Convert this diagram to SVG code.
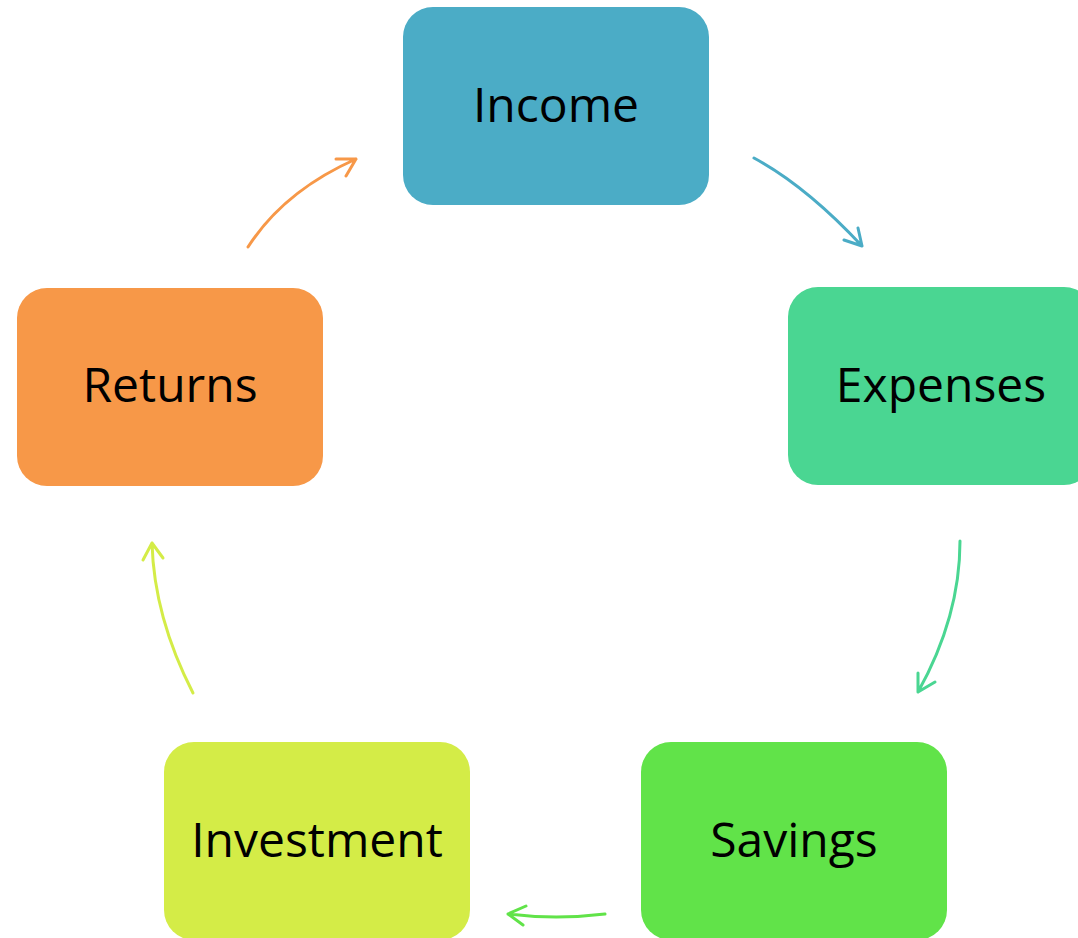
<svg xmlns="http://www.w3.org/2000/svg" width="1078" height="938" viewBox="0 0 1078 938">
<style>
.box{stroke:none}
.lbl{font-family:"Open Sans","Noto Sans","Liberation Sans",sans-serif;font-size:48px;fill:#000;text-anchor:middle}
.arr{fill:none;stroke-width:3;stroke-linecap:round;stroke-linejoin:round}
</style>
<rect width="1078" height="938" fill="#fff"/>
<g id="income"><rect class="box" x="403" y="7" width="306" height="198" rx="30" fill="#4BACC6"/><text class="lbl" x="556" y="122">Income</text></g>
<g id="expenses"><rect class="box" x="788" y="287" width="306" height="198" rx="30" fill="#4AD692"/><text class="lbl" x="941" y="402">Expenses</text></g>
<g id="savings"><rect class="box" x="641" y="742" width="306" height="198" rx="30" fill="#61E349"/><text class="lbl" x="794" y="857">Savings</text></g>
<g id="investment"><rect class="box" x="164" y="742" width="306" height="198" rx="30" fill="#D4EC47"/><text class="lbl" x="317" y="857">Investment</text></g>
<g id="returns"><rect class="box" x="17" y="288" width="306" height="198" rx="30" fill="#F79848"/><text class="lbl" x="170" y="402">Returns</text></g>
<g id="connectors">
<path class="arr" stroke="#4BACC6" d="M754,158 Q806,186 862,246 M858,228 L862,246 L844,240"/>
<path class="arr" stroke="#4AD692" d="M960,541 Q960,617 918,692 M918,673 L918,692 L935,682"/>
<path class="arr" stroke="#61E349" d="M605,914 Q556,920 508,914 M526,906 L508,914 L523,925"/>
<path class="arr" stroke="#D4EC47" d="M193,693 Q154,617 152,543 M143,560 L152,543 L163,558"/>
<path class="arr" stroke="#F79848" d="M248,247 Q284,191 356,159 M336,159 L356,159 L346,176"/>
</g>
</svg>
